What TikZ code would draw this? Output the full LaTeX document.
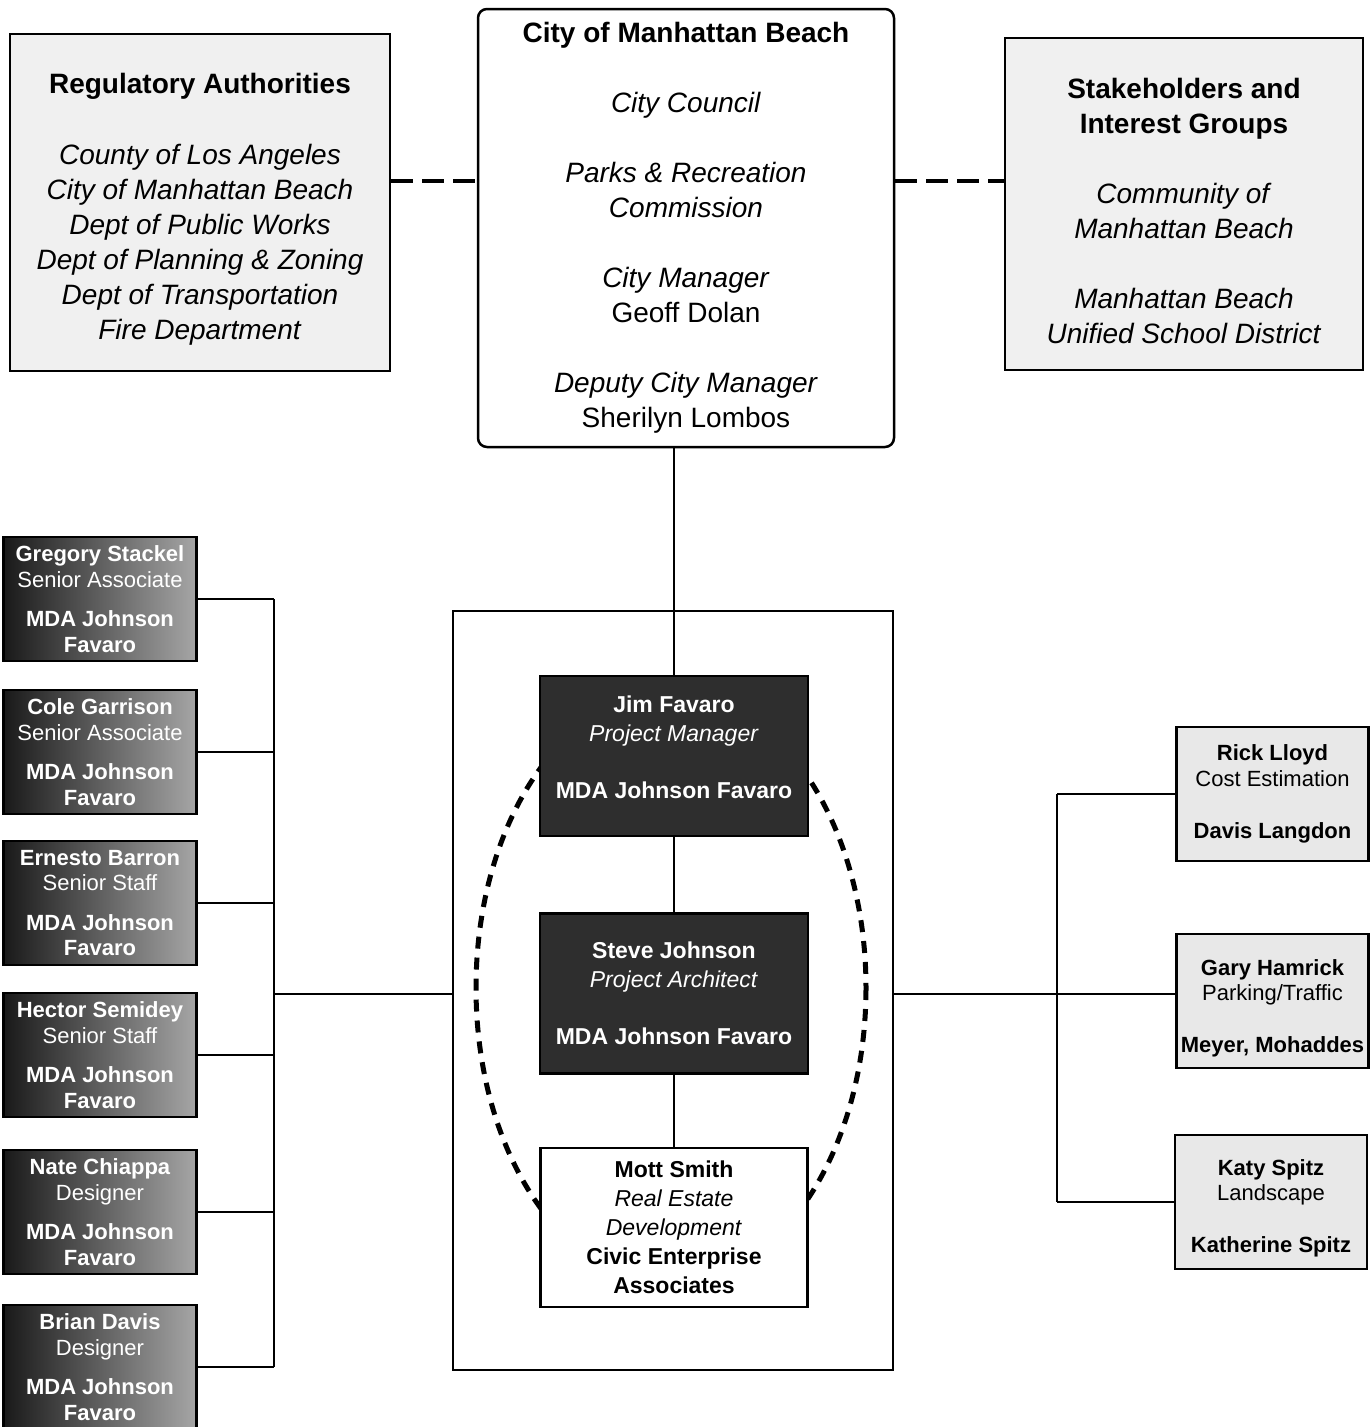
\documentclass[tikz,border=0pt]{standalone}
\usepackage{fontspec}
\setmainfont{Liberation Sans}
\usetikzlibrary{positioning}
\newcommand{\bigf}{\fontsize{28}{35}\selectfont}
\newcommand{\midf}{\fontsize{23}{29}\selectfont}
\newcommand{\smallf}{\fontsize{22}{25.5}\selectfont}

\begin{document}
\begin{tikzpicture}[x=1pt, y=-1pt,
  box/.style={draw, line width=2.5pt, align=center, inner sep=0pt},
  topbox/.style={box, fill=black!6, font=\bigf},
  staffbox/.style={box, left color=black!90, right color=black!35, text=white, font=\smallf, minimum width=193pt, minimum height=124pt},
  leadbox/.style={box, fill=black!82, text=white, font=\midf, minimum width=268pt, minimum height=160pt},
  consbox/.style={box, fill=black!9, font=\smallf, minimum width=192pt, minimum height=134pt},
  wire/.style={line width=2pt},
  link/.style={line width=4.5pt, dash pattern=on 22pt off 9pt},
  ring/.style={line width=5pt, dash pattern=on 12pt off 9pt}]
\useasboundingbox (0,0) rectangle (1372,1427);

\node[topbox, minimum width=380pt, minimum height=337pt] (reg) at (200,202.5)
  {\rule{0pt}{34pt}\textbf{Regulatory Authorities}\\[36pt]\textit{County of Los Angeles}\\\textit{City of Manhattan Beach}\\
   \textit{Dept of Public Works}\\\textit{Dept of Planning \& Zoning}\\\textit{Dept of Transportation}\\\textit{Fire Department}};
\node[topbox, fill=white, rounded corners=9pt, minimum width=416pt, minimum height=438pt] (city) at (686,228)
  {\textbf{City of Manhattan Beach}\\[35pt]\textit{City Council}\\[35pt]\textit{Parks \& Recreation}\\\textit{Commission}\\[35pt]
   \textit{City Manager}\\Geoff Dolan\\[35pt]\textit{Deputy City Manager}\\Sherilyn Lombos};
\node[topbox, minimum width=358pt, minimum height=332pt] (stake) at (1184,204)
  {\rule{0pt}{34pt}\textbf{Stakeholders and}\\\textbf{Interest Groups}\\[35pt]\textit{Community of}\\\textit{Manhattan Beach}\\[35pt]
   \textit{Manhattan Beach}\\\textit{Unified School District}};

\node[box, line width=2pt, minimum width=440pt, minimum height=759pt] (team) at (673,990.5) {};
\draw[ring] (671,988) ellipse [x radius=195, y radius=296];
\node[leadbox] (jim) at (674,756) {\textbf{Jim Favaro}\\\textit{Project Manager}\\[28pt]\textbf{MDA Johnson Favaro}\rule[-18pt]{0pt}{1pt}};
\node[leadbox] (steve) at (674,993.5) {\textbf{Steve Johnson}\\\textit{Project Architect}\\[28pt]\textbf{MDA Johnson Favaro}};
\node[box, fill=white, font=\midf, minimum width=267pt, minimum height=159pt] (mott) at (674,1227.5)
  {\textbf{Mott Smith}\\\textit{Real Estate}\\\textit{Development}\\\textbf{Civic Enterprise}\\\textbf{Associates}};

\coordinate (lnk) at (0,181);
\coordinate (lbus) at (274,994);
\coordinate (rbus) at (1057,994);
\draw[link] (reg.east |- lnk) -- (city.west |- lnk);
\draw[link] (city.east |- lnk) -- (stake.west |- lnk);
\draw[wire] (jim.north |- city.south) -- (jim);
\draw[wire] (jim) -- (steve);
\draw[wire] (steve) -- (mott);

\foreach \n/\who/\role/\y in {1/Gregory Stackel/Senior Associate/599, 2/Cole Garrison/Senior Associate/752,
  3/Ernesto Barron/Senior Staff/903, 4/Hector Semidey/Senior Staff/1055, 5/Nate Chiappa/Designer/1212, 6/Brian Davis/Designer/1367}
{\node[staffbox] (s\n) at (100,\y) {\textbf{\who}\\\role\\[14pt]\textbf{MDA Johnson}\\\textbf{Favaro}};
 \draw[wire] (s\n) -- (s\n -| lbus);}
\draw[wire] (s1 -| lbus) -- (s6 -| lbus);
\draw[wire] (lbus) -- (lbus -| team.west);

\node[consbox] (c1) at (1272.5,794) {\textbf{Rick Lloyd}\\Cost Estimation\\[27pt]\textbf{Davis Langdon}};
\node[consbox] (c2) at (1272.5,1001) {\rule{0pt}{30pt}\textbf{Gary Hamrick}\\Parking/Traffic\\[26pt]\textbf{Meyer, Mohaddes}};
\node[consbox] (c3) at (1271,1202) {\rule{0pt}{28pt}\textbf{Katy Spitz}\\Landscape\\[26pt]\textbf{Katherine Spitz}};
\draw[wire] (rbus) -- (rbus -| team.east);
\draw[wire] (c1 -| rbus) -- (c3 -| rbus);
\draw[wire] (c1) -- (c1 -| rbus);
\draw[wire] (rbus) -- (rbus -| c2.west);
\draw[wire] (c3) -- (c3 -| rbus);
\end{tikzpicture}
\end{document}
